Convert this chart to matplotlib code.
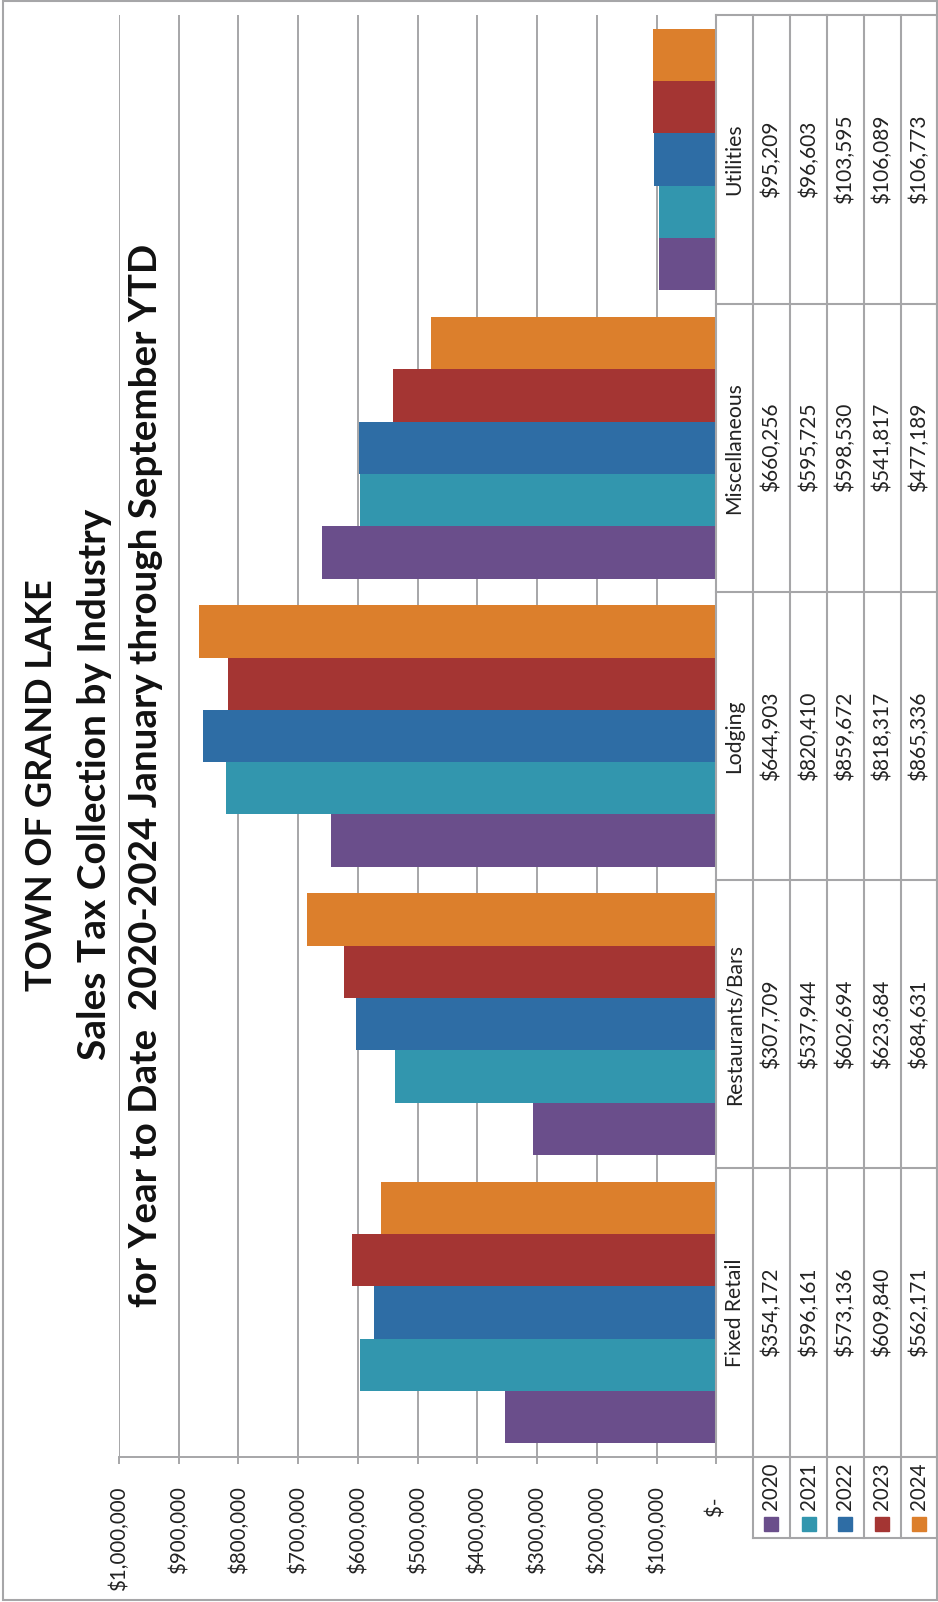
import matplotlib
matplotlib.use("Agg")
import matplotlib.pyplot as plt
import matplotlib.transforms as mtransforms
from matplotlib.lines import Line2D
from matplotlib.patches import Rectangle
import numpy as np

plt.rcParams['font.family'] = ['Lato', 'DejaVu Sans']

# data
categories = ["Fixed Retail", "Restaurants/Bars", "Lodging", "Miscellaneous", "Utilities"]
years = ["2020", "2021", "2022", "2023", "2024"]
sales_2020 = [354172, 307709, 644903, 660256, 95209]
sales_2021 = [596161, 537944, 820410, 595725, 96603]
sales_2022 = [573136, 602694, 859672, 598530, 103595]
sales_2023 = [609840, 623684, 818317, 541817, 106089]
sales_2024 = [562171, 684631, 865336, 477189, 106773]
series = [sales_2020, sales_2021, sales_2022, sales_2023, sales_2024]
colors = ["#6A4E8B", "#3296AE", "#2E6DA5", "#A43533", "#DC7F2C"]
value_ticks = [0, 100000, 200000, 300000, 400000, 500000, 600000, 700000, 800000, 900000, 1000000]
title_lines = ["TOWN OF GRAND LAKE",
               "Sales Tax Collection by Industry",
               "for Year to Date  2020-2024 January through September YTD"]

W, H = 938, 1602
GRAY = "#A6A6A8"
TXT = "#222222"


def fx(px):
    return px / W


def fy(py):
    return 1 - py / H


fig = plt.figure(figsize=(W / 100, H / 100), dpi=100)

# chart is drawn turned a quarter turn: value axis runs right-to-left
x0, x1 = 119, 716.3      # $1,000,000 ... $-
y0, y1 = 15.3, 1456.7    # top / bottom of plot
ax = fig.add_axes([fx(x0), fy(y1), (x1 - x0) / W, (y1 - y0) / H])

idx = np.arange(len(categories))
bw = 0.1815
for j, vals in enumerate(series):
    ax.barh(idx + (j - 2) * bw, vals, height=bw, color=colors[j], zorder=3)

ax.set_ylim(-0.5, len(categories) - 0.5)
ax.set_xlim(1000000, 0)
ax.set_yticks([])
ax.set_xticks(value_ticks)
ax.set_xticklabels(["$-  " if v == 0 else "${:,.0f}".format(v) for v in value_ticks],
                   rotation=90, fontsize=14.8, color=TXT)
ax.tick_params(axis='x', direction='out', length=5, width=1.4, color=GRAY, pad=16.5)
ax.grid(axis='x', color=GRAY, linewidth=1.4, zorder=0)
for s in ['top', 'left', 'right']:
    ax.spines[s].set_visible(False)
ax.spines['bottom'].set_color(GRAY)
ax.spines['bottom'].set_linewidth(1.4)

# data table
col_edges = [716.3, 752.7, 790, 827, 863.7, 901, 936.7]
legend_bottom = 1538
trans = mtransforms.blended_transform_factory(fig.transFigure, ax.transData)
for k, xe in enumerate(col_edges):
    ybot = y1 if k == 0 else legend_bottom
    fig.add_artist(Line2D([fx(xe), fx(xe)], [fy(y0), fy(ybot)], color=GRAY, lw=1.5))
for b in np.arange(-0.5, len(categories), 1.0):
    fig.add_artist(Line2D([fx(col_edges[0]), fx(col_edges[-1])], [b, b],
                          transform=trans, color=GRAY, lw=1.5))
fig.add_artist(Line2D([fx(col_edges[1]), fx(col_edges[-1])], [fy(legend_bottom)] * 2,
                      color=GRAY, lw=1.5))

centers = [(col_edges[k] + col_edges[k + 1]) / 2 for k in range(len(col_edges) - 1)]
for i, cat in enumerate(categories):
    fig.text(fx(centers[0]), i, cat, transform=trans, rotation=90,
             ha='center', va='center', fontsize=15.2, color=TXT)
    for j, vals in enumerate(series):
        fig.text(fx(centers[j + 1]), i, "${:,.0f}".format(vals[i]), transform=trans,
                 rotation=90, ha='center', va='center', fontsize=15, color=TXT)

# legend keys under the table
for j, yr in enumerate(years):
    cx = centers[j + 1]
    fig.text(fx(cx), fy(1486.5), yr, rotation=90, ha='center', va='center',
             fontsize=14.8, color=TXT)
    fig.add_artist(Rectangle((fx(cx - 7), fy(1531)), 14 / W, 14 / H,
                             transform=fig.transFigure, color=colors[j]))

# title, three lines
for line, tx, ty, fs in zip(title_lines, [42, 94, 146], [785, 784, 775], [26, 28, 27.7]):
    fig.text(fx(tx), fy(ty), line, rotation=90, ha='center', va='center',
             fontsize=fs, fontweight='bold', color='#111111')

# outer border
fig.add_artist(Rectangle((fx(3), fy(1600)), (936.7 - 3) / W, (1600 - 1) / H,
                         transform=fig.transFigure, fill=False, edgecolor=GRAY, lw=1.5))

fig.savefig("out.png", dpi=100)
